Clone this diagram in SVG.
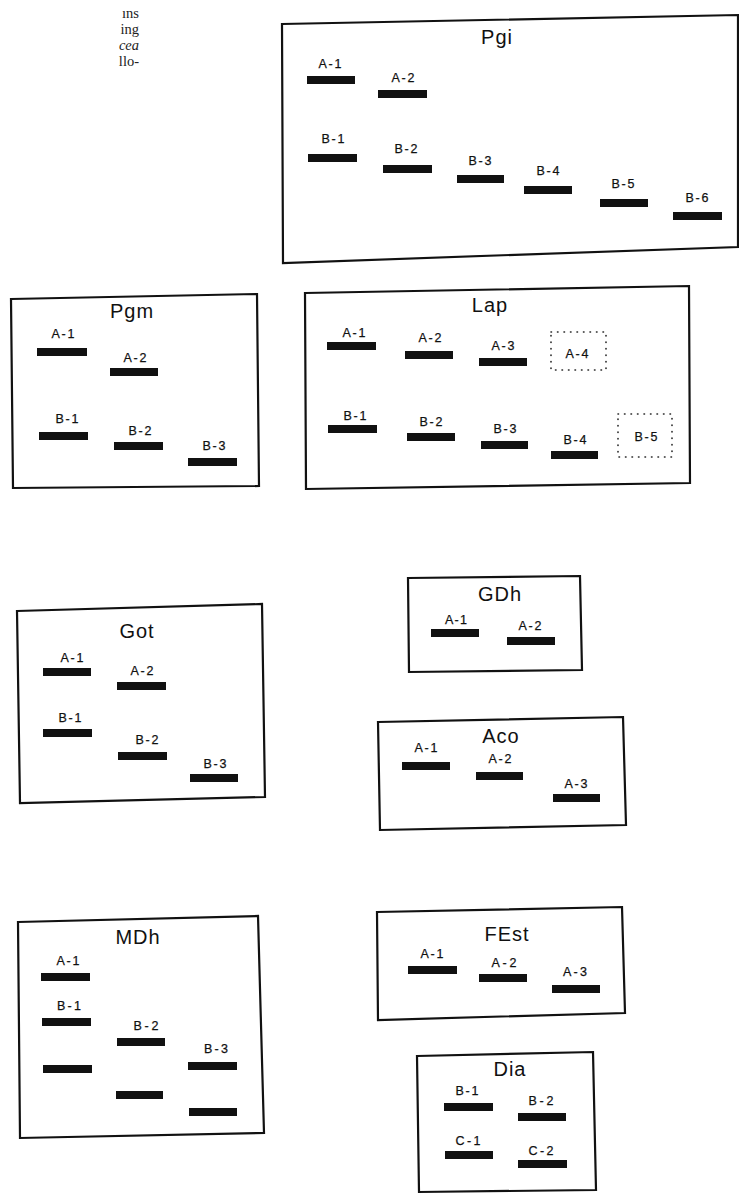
<svg xmlns="http://www.w3.org/2000/svg" width="739" height="1194" viewBox="0 0 739 1194">
<style>
.bg{fill:#fff}
.box{fill:none;stroke:#111;stroke-width:2.2;stroke-linejoin:miter}
.dot{fill:none;stroke:#222;stroke-width:1.6;stroke-dasharray:0.5 6;stroke-linecap:round}
.bar{fill:#111}
.t{font-family:"Liberation Sans",Arial,sans-serif;font-size:20px;letter-spacing:1px;fill:#111;text-anchor:middle}
.l{font-family:"Liberation Sans",Arial,sans-serif;font-size:12.5px;fill:#111;stroke:#111;stroke-width:0.25;text-anchor:middle}
.frag{font-family:"Liberation Serif","Times New Roman",serif;font-size:14.5px;fill:#222;text-anchor:end}
</style>
<rect class="bg" x="0" y="0" width="739" height="1194"/>
<g id="page-fragments">
<text class="frag" x="139" y="18">ıns</text>
<text class="frag" x="139" y="34">ing</text>
<text class="frag" x="139" y="50" font-style="italic">cea</text>
<text class="frag" x="139" y="66">llo-</text>
</g>
<g id="connectors"></g>
<g id="Pgi">
<polygon class="box" points="282,24 738,15 738,247 283,263"/>
<text class="t" x="497" y="44" font-size="16">Pgi</text>
<text class="l" x="330" y="68" textLength="23">A-1</text><rect class="bar" x="307" y="76" width="48" height="8"/>
<text class="l" x="403" y="82" textLength="23">A-2</text><rect class="bar" x="378" y="90" width="49" height="8"/>
<text class="l" x="333" y="143" textLength="23">B-1</text><rect class="bar" x="308" y="154" width="49" height="8"/>
<text class="l" x="406" y="153" textLength="23">B-2</text><rect class="bar" x="383" y="165" width="49" height="8"/>
<text class="l" x="480" y="165" textLength="23">B-3</text><rect class="bar" x="457" y="175" width="47" height="8"/>
<text class="l" x="548" y="175" textLength="23">B-4</text><rect class="bar" x="524" y="186" width="48" height="8"/>
<text class="l" x="623" y="188" textLength="23">B-5</text><rect class="bar" x="600" y="199" width="48" height="8"/>
<text class="l" x="697" y="202" textLength="23">B-6</text><rect class="bar" x="673" y="212" width="49" height="8"/>
</g>
<g id="Pgm">
<polygon class="box" points="11,299 257,294 259,486 13,488"/>
<text class="t" x="132" y="318">Pgm</text>
<text class="l" x="63" y="338" textLength="23">A-1</text><rect class="bar" x="37" y="348" width="50" height="8"/>
<text class="l" x="135" y="362" textLength="23">A-2</text><rect class="bar" x="110" y="368" width="48" height="8"/>
<text class="l" x="67" y="423" textLength="23">B-1</text><rect class="bar" x="39" y="432" width="49" height="8"/>
<text class="l" x="140" y="435" textLength="23">B-2</text><rect class="bar" x="114" y="442" width="49" height="8"/>
<text class="l" x="214" y="450" textLength="23">B-3</text><rect class="bar" x="188" y="458" width="49" height="8"/>
</g>
<g id="Lap">
<polygon class="box" points="305,293 689,286 690,483 306,489"/>
<text class="t" x="490" y="312">Lap</text>
<text class="l" x="354" y="337" textLength="23">A-1</text><rect class="bar" x="327" y="342" width="49" height="8"/>
<text class="l" x="430" y="342" textLength="23">A-2</text><rect class="bar" x="405" y="351" width="48" height="8"/>
<text class="l" x="503" y="350" textLength="23">A-3</text><rect class="bar" x="479" y="358" width="48" height="8"/>
<rect class="dot" x="551" y="332" width="55" height="38"/>
<text class="l" x="577" y="358" textLength="23">A-4</text>
<text class="l" x="355" y="420" textLength="23">B-1</text><rect class="bar" x="328" y="425" width="49" height="8"/>
<text class="l" x="431" y="426" textLength="23">B-2</text><rect class="bar" x="407" y="433" width="48" height="8"/>
<text class="l" x="505" y="433" textLength="23">B-3</text><rect class="bar" x="481" y="441" width="47" height="8"/>
<text class="l" x="575" y="444" textLength="23">B-4</text><rect class="bar" x="551" y="451" width="47" height="8"/>
<rect class="dot" x="618" y="414" width="54" height="43"/>
<text class="l" x="646" y="441" textLength="23">B-5</text>
</g>
<g id="Got">
<polygon class="box" points="17,611 262,604 265,797 20,803"/>
<text class="t" x="137" y="638">Got</text>
<text class="l" x="72" y="662" textLength="23">A-1</text><rect class="bar" x="43" y="668" width="48" height="8"/>
<text class="l" x="142" y="675" textLength="23">A-2</text><rect class="bar" x="117" y="682" width="49" height="8"/>
<text class="l" x="70" y="722" textLength="23">B-1</text><rect class="bar" x="43" y="729" width="49" height="8"/>
<text class="l" x="147" y="744" textLength="23">B-2</text><rect class="bar" x="118" y="752" width="49" height="8"/>
<text class="l" x="215" y="768" textLength="23">B-3</text><rect class="bar" x="190" y="774" width="48" height="8"/>
</g>
<g id="GDh">
<polygon class="box" points="408,578 580,576 582,670 409,672"/>
<text class="t" x="500" y="601">GDh</text>
<text class="l" x="456" y="624" textLength="22">A-1</text><rect class="bar" x="431" y="629" width="48" height="8"/>
<text class="l" x="530" y="630" textLength="23">A-2</text><rect class="bar" x="507" y="637" width="48" height="8"/>
</g>
<g id="Aco">
<polygon class="box" points="378,722 623,717 626,825 380,830"/>
<text class="t" x="501" y="743">Aco</text>
<text class="l" x="426" y="752" textLength="23">A-1</text><rect class="bar" x="402" y="762" width="48" height="8"/>
<text class="l" x="500" y="763" textLength="23">A-2</text><rect class="bar" x="476" y="772" width="47" height="8"/>
<text class="l" x="576" y="788" textLength="23">A-3</text><rect class="bar" x="553" y="794" width="47" height="8"/>
</g>
<g id="MDh">
<polygon class="box" points="18,922 258,916 264,1133 20,1138"/>
<text class="t" x="138" y="944">MDh</text>
<text class="l" x="68" y="965" textLength="23">A-1</text><rect class="bar" x="41" y="973" width="49" height="8"/>
<text class="l" x="69" y="1010" textLength="24">B-1</text><rect class="bar" x="42" y="1018" width="49" height="8"/>
<rect class="bar" x="43" y="1065" width="49" height="8"/>
<text class="l" x="146" y="1030" textLength="25">B-2</text><rect class="bar" x="117" y="1038" width="48" height="8"/>
<rect class="bar" x="116" y="1091" width="47" height="8"/>
<text class="l" x="216" y="1053" textLength="24">B-3</text><rect class="bar" x="188" y="1062" width="49" height="8"/>
<rect class="bar" x="189" y="1108" width="48" height="8"/>
</g>
<g id="FEst">
<polygon class="box" points="377,912 622,907 625,1013 378,1020"/>
<text class="t" x="507" y="941">FEst</text>
<text class="l" x="432" y="958" textLength="23">A-1</text><rect class="bar" x="408" y="966" width="49" height="8"/>
<text class="l" x="504" y="967" textLength="25">A-2</text><rect class="bar" x="479" y="974" width="48" height="8"/>
<text class="l" x="575" y="976" textLength="24">A-3</text><rect class="bar" x="552" y="985" width="48" height="8"/>
</g>
<g id="Dia">
<polygon class="box" points="417,1056 593,1052 596,1190 419,1192"/>
<text class="t" x="510" y="1076">Dia</text>
<text class="l" x="467" y="1095" textLength="23">B-1</text><rect class="bar" x="444" y="1103" width="49" height="8"/>
<text class="l" x="541" y="1105" textLength="25">B-2</text><rect class="bar" x="518" y="1113" width="48" height="8"/>
<text class="l" x="468" y="1145" textLength="25">C-1</text><rect class="bar" x="445" y="1151" width="48" height="8"/>
<text class="l" x="541" y="1155" textLength="25">C-2</text><rect class="bar" x="518" y="1160" width="49" height="8"/>
</g>
</svg>
